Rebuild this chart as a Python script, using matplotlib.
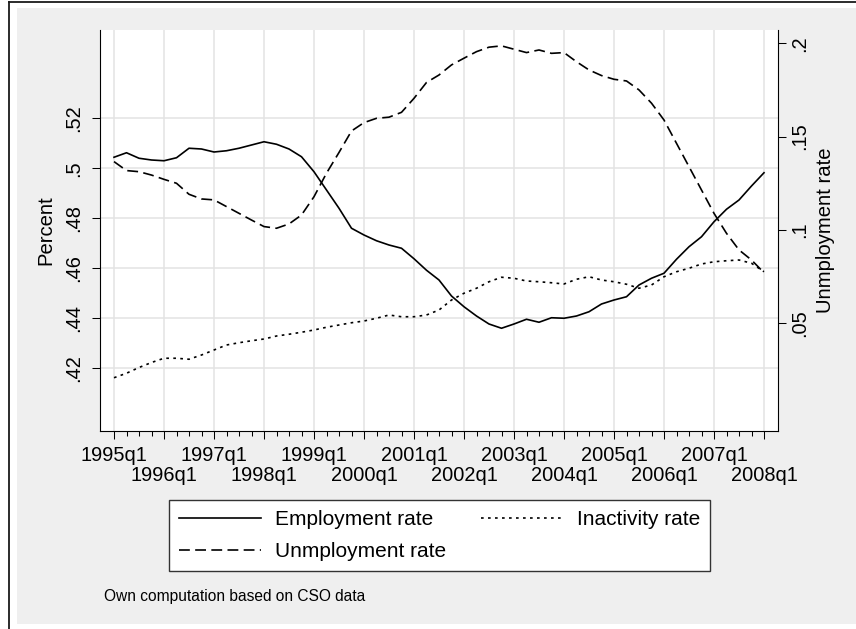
import matplotlib
matplotlib.use("Agg")
import matplotlib.pyplot as plt
from matplotlib.lines import Line2D
from matplotlib.patches import Rectangle
import numpy as np

plt.rcParams['font.family'] = ['Liberation Sans', 'DejaVu Sans']

# ---------------- data (quarterly, 1995q1 .. 2008q1) ----------------
tick_labels = ['1995q1', '1996q1', '1997q1', '1998q1', '1999q1', '2000q1', '2001q1',
               '2002q1', '2003q1', '2004q1', '2005q1', '2006q1', '2007q1', '2008q1']

employment = [0.5044, 0.5062, 0.5040, 0.5033, 0.5030, 0.5042, 0.5080, 0.5077, 0.5065, 0.5070,
              0.5080, 0.5093, 0.5106, 0.5096, 0.5077, 0.5046, 0.4986, 0.4913, 0.4840, 0.4760,
              0.4733, 0.4710, 0.4693, 0.4680, 0.4638, 0.4592, 0.4553, 0.4489, 0.4446, 0.4409,
              0.4377, 0.4360, 0.4377, 0.4396, 0.4384, 0.4402, 0.4400, 0.4409, 0.4426, 0.4457,
              0.4473, 0.4486, 0.4533, 0.4560, 0.4580, 0.4636, 0.4686, 0.4726, 0.4786, 0.4836,
              0.4873, 0.4929, 0.4982]

inactivity = [0.4162, 0.4180, 0.4203, 0.4223, 0.4240, 0.4240, 0.4236, 0.4253, 0.4273, 0.4293,
              0.4302, 0.4310, 0.4317, 0.4329, 0.4336, 0.4344, 0.4353, 0.4364, 0.4373, 0.4382,
              0.4389, 0.4400, 0.4413, 0.4406, 0.4406, 0.4413, 0.4433, 0.4473, 0.4500, 0.4520,
              0.4546, 0.4564, 0.4560, 0.4549, 0.4546, 0.4542, 0.4537, 0.4556, 0.4566, 0.4553,
              0.4546, 0.4536, 0.4520, 0.4533, 0.4566, 0.4586, 0.4600, 0.4617, 0.4626, 0.4630,
              0.4633, 0.4620, 0.4586]

unemployment = [0.1366, 0.1318, 0.1312, 0.1294, 0.1271, 0.1250, 0.1191, 0.1166, 0.1161, 0.1125,
                0.1089, 0.1053, 0.1018, 0.1009, 0.1032, 0.1080, 0.1178, 0.1304, 0.1415, 0.1530,
                0.1575, 0.1598, 0.1604, 0.1630, 0.1705, 0.1790, 0.1830, 0.1884, 0.1920, 0.1955,
                0.1979, 0.1986, 0.1968, 0.1950, 0.1964, 0.1946, 0.1950, 0.1901, 0.1857, 0.1827,
                0.1807, 0.1798, 0.1750, 0.1679, 0.1589, 0.1464, 0.1339, 0.1214, 0.1089, 0.0982,
                0.0893, 0.0839, 0.0771]

left_ticks = [0.42, 0.44, 0.46, 0.48, 0.50, 0.52]
left_tick_labels = ['.42', '.44', '.46', '.48', '.5', '.52']
right_ticks = [0.05, 0.10, 0.15, 0.20]
right_tick_labels = ['.05', '.1', '.15', '.2']

# ---------------- figure ----------------
W, H = 856, 629
fig = plt.figure(figsize=(W / 100, H / 100), dpi=100, facecolor='white')

# light grey graph region and outer frame lines
fig.add_artist(Rectangle((17 / W, 1 - 623.5 / H), (W - 17) / W, (623.5 - 8) / H,
                         transform=fig.transFigure, facecolor='#efefef',
                         edgecolor='none', zorder=-10))
fig.add_artist(Line2D([8.5 / W, 8.5 / W], [0, 1 - 2 / H], transform=fig.transFigure,
                      color='#1a1a1a', lw=1.3, zorder=-5))
fig.add_artist(Line2D([8.5 / W, 1], [1 - 2 / H, 1 - 2 / H], transform=fig.transFigure,
                      color='#1a1a1a', lw=1.3, zorder=-5))

ax = fig.add_axes([100 / W, 1 - 431 / H, 678 / W, 401 / H])
ax.set_facecolor('white')
ax2 = ax.twinx()

x = np.arange(len(employment))
lw = 1.2
l_emp, = ax.plot(x, employment, color='black', lw=lw, linestyle='-')
l_in, = ax.plot(x, inactivity, color='black', lw=lw, linestyle=(0, (1.6, 2.6)))
l_un, = ax2.plot(x, unemployment, color='black', lw=lw, linestyle=(0, (6.5, 3.2)))

ax.set_xlim(-1.12, 53.12)
ax.set_ylim(0.3949, 0.5553)
ax2.set_ylim(-0.0077, 0.2071)

# x ticks
major_q = list(range(0, len(employment), 4))
minor_q = [q for q in range(len(employment)) if q % 4]
ax.set_xticks(major_q, tick_labels)
ax.set_xticks(minor_q, minor=True)
ax.tick_params(axis='x', which='major', length=5.8, width=0.75, pad=5,
               labelsize=14.4, color='black')
ax.tick_params(axis='x', which='minor', length=3.6, width=0.75, color='black')
for i, t in enumerate(ax.xaxis.get_major_ticks()):
    if i % 2:
        t.set_pad(19.5)

# y ticks
ax.set_yticks(left_ticks, left_tick_labels, rotation=90, va='center')
ax.tick_params(axis='y', length=5.8, width=0.75, pad=6.5, labelsize=14.4)
ax2.set_yticks(right_ticks, right_tick_labels, rotation=90, va='center')
ax2.tick_params(axis='y', length=5.8, width=0.75, pad=3, labelsize=14.4)

ax.set_ylabel('Percent', fontsize=14.6, labelpad=6)
ax2.set_ylabel('Unmployment rate', fontsize=14.6, labelpad=5)

# grid
ax.grid(True, which='major', color='#e3e3e3', lw=1.1)
ax.set_axisbelow(True)

# spines
for s in ['top', 'right']:
    ax.spines[s].set_visible(False)
for s in ['top', 'left', 'bottom']:
    ax2.spines[s].set_visible(False)
for sp in [ax.spines['left'], ax.spines['bottom'], ax2.spines['right']]:
    sp.set_linewidth(0.8)
    sp.set_color('black')

# legend
leg = fig.legend(handles=[l_emp, l_un, l_in],
                 labels=['Employment rate', 'Unmployment rate', 'Inactivity rate'],
                 ncol=2, loc='upper left', bbox_to_anchor=(169 / W, 1 - 500 / H),
                 bbox_transform=fig.transFigure, borderaxespad=0,
                 frameon=True, fancybox=False, edgecolor='#333333', facecolor='white',
                 framealpha=1, fontsize=15, handlelength=3.9, handletextpad=0.7,
                 columnspacing=1.65, labelspacing=0.6, borderpad=0.5)
leg.get_frame().set_linewidth(1.0)

fig.text(104 / W, 1 - 597 / H, 'Own computation based on CSO data', fontsize=11.2,
         va='center', ha='left')

fig.savefig('out.png', dpi=100, facecolor='white')
